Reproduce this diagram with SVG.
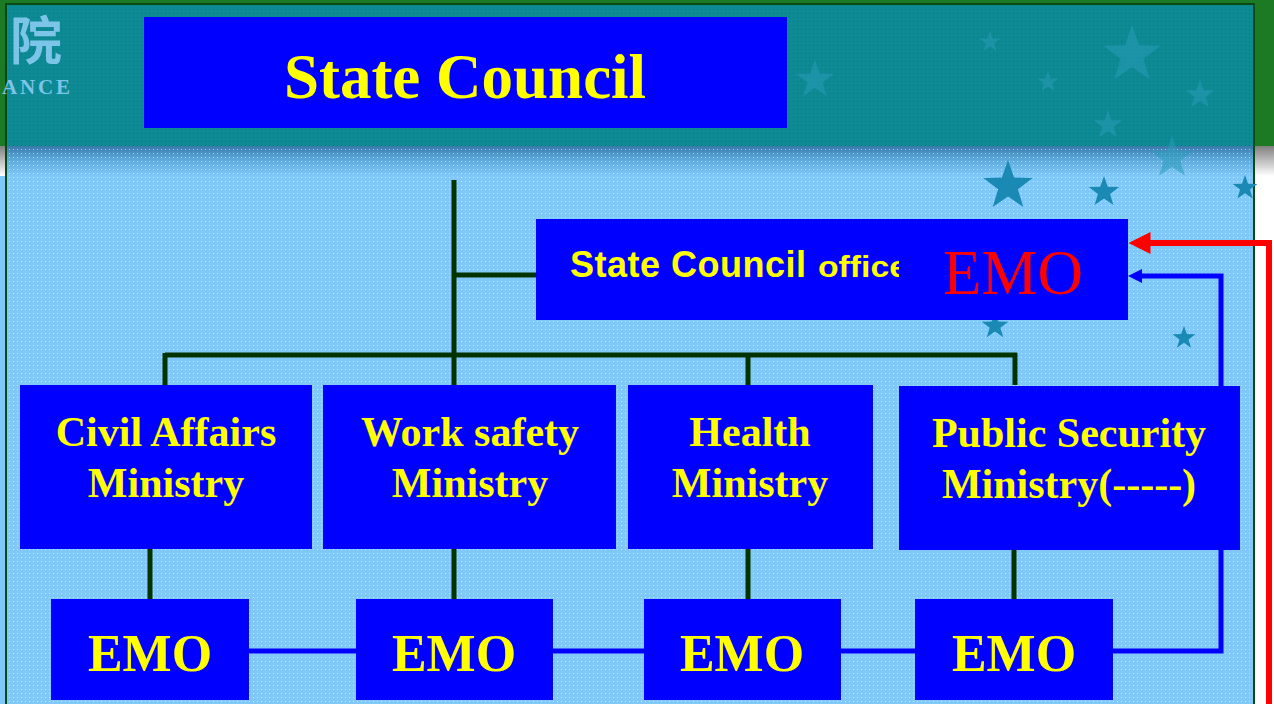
<svg xmlns="http://www.w3.org/2000/svg" width="1274" height="704" viewBox="0 0 1274 704">
<style>
.box{fill:#0000ff}
.t{font-family:"Liberation Serif","Times New Roman",serif;font-weight:bold;fill:#ffff00;text-anchor:middle}
.min{font-size:42px}
.emo{font-size:52px}
.tree{fill:none;stroke:#003300;stroke-width:5}
.blue{fill:none;stroke:#0000ff;stroke-width:5}
.red{fill:none;stroke:#ff0000;stroke-width:6}
.star{fill:#1a8ab4}
.fstar{fill:#2a9ab8;opacity:0.55}
</style>
<defs>
<pattern id="dots" width="4" height="4" patternUnits="userSpaceOnUse">
<rect x="1" y="1" width="1" height="1" fill="#ffffff" opacity="0.55"/>
</pattern>
<pattern id="gdots" width="4" height="4" patternUnits="userSpaceOnUse">
<rect x="1" y="1" width="1" height="1" fill="#0a6a50" opacity="0.6"/>
</pattern>
<linearGradient id="fade" x1="0" y1="0" x2="0" y2="1">
<stop offset="0" stop-color="#3a78a8"/>
<stop offset="0.4" stop-color="#5aa6d8"/>
<stop offset="1" stop-color="#80c8f8"/>
</linearGradient>
<linearGradient id="greyfade" x1="0" y1="0" x2="0" y2="1">
<stop offset="0" stop-color="#808080"/>
<stop offset="1" stop-color="#ffffff"/>
</linearGradient>
<path id="st" d="M0,-10 L2.35,-3.24 L9.51,-3.09 L3.8,1.24 L5.88,8.09 L0,4 L-5.88,8.09 L-3.8,1.24 L-9.51,-3.09 L-2.35,-3.24 Z"/>
<marker id="redArrow" markerUnits="userSpaceOnUse" markerWidth="22" markerHeight="22" refX="5" refY="10" orient="auto" viewBox="0 0 20 20">
<path d="M0,0 L20,10 L0,20 Z" fill="#ff0000"/>
</marker>
<marker id="blueArrow" markerUnits="userSpaceOnUse" markerWidth="14" markerHeight="14" refX="2" refY="7" orient="auto" viewBox="0 0 14 14">
<path d="M0,0 L14,7 L0,14 Z" fill="#0000ff"/>
</marker>
</defs>

<g id="background">
<rect x="0" y="0" width="1274" height="704" fill="#ffffff"/>
<rect x="0" y="0" width="1274" height="146" fill="#1c7a24"/>
<rect x="0" y="146" width="6" height="30" fill="url(#greyfade)"/>
<rect x="1254" y="146" width="20" height="30" fill="url(#greyfade)"/>
<rect x="0" y="176" width="6" height="528" fill="#80c8f8"/>
<rect x="6" y="4" width="1248" height="142" fill="#0e8a94"/>
<rect x="6" y="4" width="1248" height="142" fill="url(#gdots)"/>
<rect x="6" y="146" width="1248" height="30" fill="url(#fade)"/>
<rect x="6" y="176" width="1248" height="528" fill="#80c8f8"/>
<rect x="6" y="146" width="1248" height="558" fill="url(#dots)"/>
<rect x="6" y="4" width="1248" height="710" fill="none" stroke="#0a4a14" stroke-width="2"/>
<text x="10" y="60" font-family="'Noto Sans CJK SC',sans-serif" font-weight="bold" font-size="52" fill="#7cc4e8">院</text>
<text x="2" y="94" font-family="'Liberation Serif',serif" font-weight="bold" font-size="21" fill="#7cc4e8" textLength="68">ANCE</text>
<use href="#st" class="fstar" transform="translate(815,80) scale(2)"/>
<use href="#st" class="fstar" transform="translate(990,42) scale(1.1)"/>
<use href="#st" class="fstar" transform="translate(1048,82) scale(1.1)"/>
<use href="#st" class="fstar" transform="translate(1132,55) scale(3)"/>
<use href="#st" class="fstar" transform="translate(1108,125) scale(1.5)"/>
<use href="#st" class="fstar" transform="translate(1172,158) scale(2.2)"/>
<use href="#st" class="fstar" transform="translate(1200,95) scale(1.5)"/>
<use href="#st" class="star" transform="translate(1008,186) scale(2.6)"/>
<use href="#st" class="star" transform="translate(1104,192) scale(1.6)"/>
<use href="#st" class="star" transform="translate(1245,188) scale(1.3)"/>
<use href="#st" class="star" transform="translate(995,326) scale(1.4)"/>
<use href="#st" class="star" transform="translate(1184,338) scale(1.2)"/>
</g>

<g id="connectors">
<path class="tree" d="M454,180 V385 M454,275 H551 M165,355 H1017 M165,353 V385 M748,353 V385 M1015,353 V385 M150,549 V599 M454,549 V599 M748,549 V599 M1014,549 V599"/>
<path class="blue" d="M248,651 H356 M552,651 H644 M840,651 H916"/>
<path class="blue" d="M1112,651 H1221 V276 H1140" marker-end="url(#blueArrow)"/>
<path class="red" d="M1269,704 V243 H1145" marker-end="url(#redArrow)"/>
</g>

<g id="state-council">
<rect class="box" x="144" y="17" width="643" height="111"/>
<text class="t" x="465" y="98" font-size="63">State Council</text>
</g>

<g id="state-council-office">
<rect class="box" x="536" y="219" width="592" height="101"/>
<text x="570" y="277" font-family="'Liberation Sans',Arial,sans-serif" font-weight="bold" font-size="36" fill="#ffff00" textLength="236">State Council</text>
<text x="818" y="277" font-family="'Liberation Sans Narrow','Liberation Sans',Arial,sans-serif" font-weight="bold" font-size="30" fill="#ffff00" textLength="90" lengthAdjust="spacingAndGlyphs">office</text>
<rect class="box" x="899" y="219" width="229" height="101"/>
<text x="1013" y="294" font-family="'Liberation Serif','Times New Roman',serif" font-size="63" fill="#ff0000" text-anchor="middle">EMO</text>
</g>

<g id="civil-affairs">
<rect class="box" x="20" y="385" width="292" height="164"/>
<text class="t min" x="166" y="446">Civil Affairs</text>
<text class="t min" x="166" y="497">Ministry</text>
</g>
<g id="work-safety">
<rect class="box" x="323" y="385" width="293" height="164"/>
<text class="t min" x="470" y="446">Work safety</text>
<text class="t min" x="470" y="497">Ministry</text>
</g>
<g id="health">
<rect class="box" x="628" y="385" width="245" height="164"/>
<text class="t min" x="750" y="446">Health</text>
<text class="t min" x="750" y="497">Ministry</text>
</g>
<g id="public-security">
<rect class="box" x="899" y="386" width="341" height="164"/>
<text class="t min" x="1069" y="447">Public Security</text>
<text class="t min" x="1069" y="498">Ministry(-----)</text>
</g>

<g id="emo-1">
<rect class="box" x="51" y="599" width="198" height="101"/>
<text class="t emo" x="150" y="671">EMO</text>
</g>
<g id="emo-2">
<rect class="box" x="356" y="599" width="197" height="101"/>
<text class="t emo" x="454" y="671">EMO</text>
</g>
<g id="emo-3">
<rect class="box" x="644" y="599" width="197" height="101"/>
<text class="t emo" x="742" y="671">EMO</text>
</g>
<g id="emo-4">
<rect class="box" x="915" y="599" width="198" height="101"/>
<text class="t emo" x="1014" y="671">EMO</text>
</g>
</svg>
